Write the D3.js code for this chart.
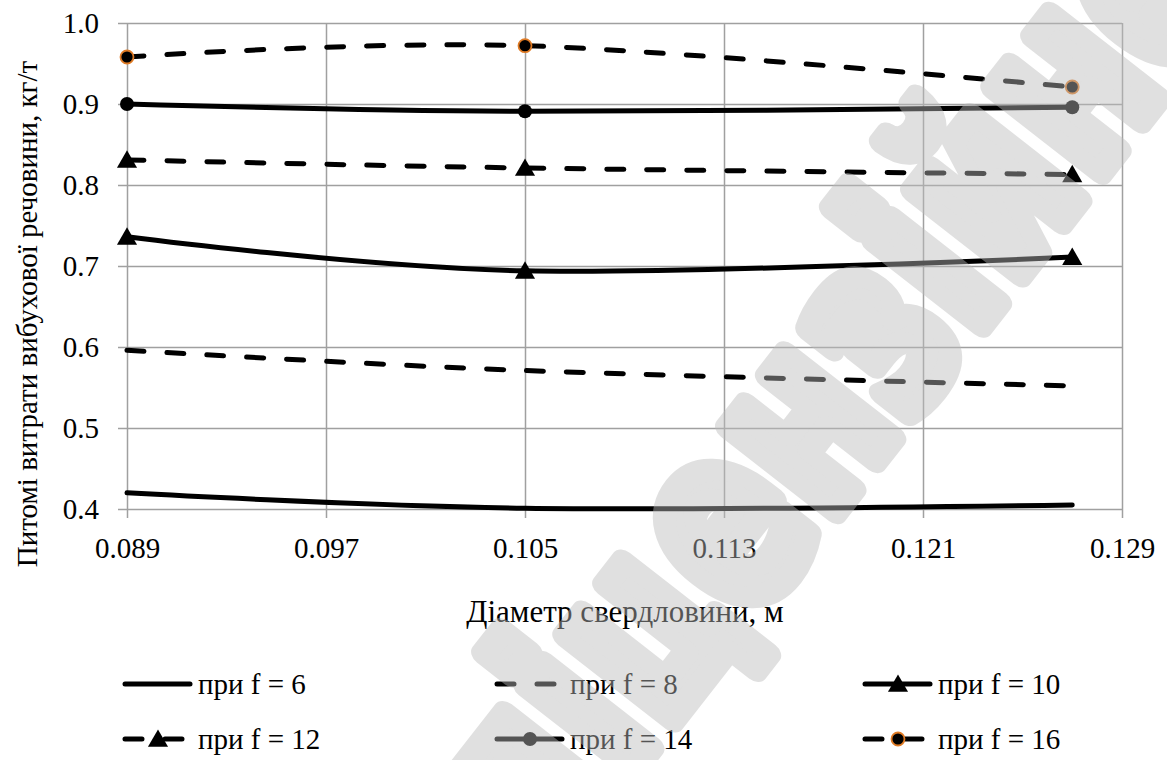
<!DOCTYPE html>
<html>
<head>
<meta charset="utf-8">
<script src="https://cdn.jsdelivr.net/npm/d3@7"></script>
<style>
  body { margin: 0; background: #fff; }
  text { font-family: "Liberation Serif", "Times New Roman", serif; fill: #000; }
</style>
</head>
<body>
<script>
"use strict";

// Data

let diameters = [0.089, 0.105, 0.127];
let f6 = [0.420, 0.401, 0.405];
let f8 = [0.596, 0.571, 0.552];
let f10 = [0.736, 0.694, 0.711];
let f12 = [0.831, 0.821, 0.813];
let f14 = [0.900, 0.891, 0.896];
let f16 = [0.958, 0.972, 0.921];

let xTicks = [0.089, 0.097, 0.105, 0.113, 0.121, 0.129];
let yTicks = [0.4, 0.5, 0.6, 0.7, 0.8, 0.9, 1.0];

let seriesNames = ["при f = 6", "при f = 8", "при f = 10", "при f = 12", "при f = 14", "при f = 16"];
let seriesValues = [f6, f8, f10, f12, f14, f16];
let seriesDashed = [false, true, false, true, false, true];
let seriesMarker = ["none", "none", "triangle", "triangle", "circle", "ringed"];

let xTitle = "Діаметр свердловини, м";
let yTitle = "Питомі витрати вибухової речовини, кг/т";

// Layout

let svgWidth = 1167;
let svgHeight = 760;
let margin = {top: 23, right: 45, bottom: 251, left: 127};
let width = svgWidth - margin.left - margin.right;
let height = svgHeight - margin.top - margin.bottom;
let gridColor = "#a0a0a0";
let dash = "17,23";
let serif = '"Liberation Serif", "Times New Roman", serif';

let svg = d3.select("body")
    .append("svg")
    .attr("width", svgWidth)
    .attr("height", svgHeight);

let g = svg.append("g")
    .attr("transform", `translate(${margin.left}, ${margin.top})`);

let xScale = d3.scaleLinear()
    .domain([0.089, 0.129])
    .range([0, width]);

let yScale = d3.scaleLinear()
    .domain([0.4, 1.0])
    .range([height, 0]);

// Axes + grid

let xAxis = d3.axisBottom(xScale)
    .tickValues(xTicks)
    .tickFormat(d3.format(".3f"))
    .tickSizeInner(-height)
    .tickSizeOuter(0)
    .tickPadding(28);

let yAxis = d3.axisLeft(yScale)
    .tickValues(yTicks)
    .tickFormat(d3.format(".1f"))
    .tickSizeInner(-width)
    .tickSizeOuter(0)
    .tickPadding(28);

let gx = g.append("g")
    .attr("transform", `translate(0, ${height})`)
    .call(xAxis);
gx.selectAll(".tick line").attr("y1", 9);

let gy = g.append("g")
    .call(yAxis);
gy.selectAll(".tick line").attr("x1", -9);

g.selectAll(".domain").remove();
g.selectAll(".tick line")
    .style("stroke", gridColor)
    .style("stroke-width", 1.5);
g.selectAll(".tick text")
    .style("font-size", "29px")
    .style("font-family", serif)
    .style("fill", "#000");

// Lines

let line = d3.line()
    .x((d, i) => xScale(diameters[i]))
    .y(d => yScale(d))
    .curve(d3.curveCardinal.tension(0));

let triangle = d3.symbol().type(d3.symbolTriangle).size(175);

function drawMarker(sel, type, x, y) {
    if (type == "triangle") {
        sel.append("path")
            .attr("d", triangle())
            .attr("transform", `translate(${x}, ${y + 2})`)
            .attr("fill", "#000");
    } else if (type == "circle") {
        sel.append("circle")
            .attr("cx", x).attr("cy", y).attr("r", 7)
            .attr("fill", "#000");
    } else if (type == "ringed") {
        sel.append("circle")
            .attr("cx", x).attr("cy", y).attr("r", 6.5)
            .attr("fill", "#000")
            .attr("stroke", "#e07b25")
            .attr("stroke-width", 1.8);
    }
}

seriesValues.forEach((vals, k) => {
    g.append("path")
        .datum(vals)
        .attr("d", line)
        .attr("fill", "none")
        .attr("stroke", "#000")
        .attr("stroke-width", 5)
        .attr("stroke-linecap", "round")
        .attr("stroke-dasharray", seriesDashed[k] ? dash : null);

    vals.forEach((v, i) => drawMarker(g, seriesMarker[k], xScale(diameters[i]), yScale(v)));
});

// Titles

svg.append("text")
    .attr("x", 625)
    .attr("y", 622)
    .attr("text-anchor", "middle")
    .style("font-size", "31px")
    .text(xTitle);

svg.append("text")
    .attr("transform", "translate(37, 314) rotate(-90)")
    .attr("text-anchor", "middle")
    .style("font-size", "29px")
    .text(yTitle);

// Legend

let legendCols = [123, 495, 863];
let legendRows = [684, 739];
let legend = svg.append("g");

seriesNames.forEach((name, k) => {
    let lx = legendCols[k % 3];
    let ly = legendRows[Math.floor(k / 3)];
    let item = legend.append("g");
    item.append("line")
        .attr("x1", lx + 2).attr("x2", lx + 67)
        .attr("y1", ly).attr("y2", ly)
        .attr("stroke", "#000")
        .attr("stroke-width", 5)
        .attr("stroke-linecap", "round")
        .attr("stroke-dasharray", seriesDashed[k] ? dash : null);
    drawMarker(item, seriesMarker[k], lx + 35, ly);
    item.append("text")
        .attr("x", lx + 75)
        .attr("y", ly + 10)
        .style("font-size", "29px")
        .text(name);
});

// Watermark overlay

svg.append("g")
    .style("opacity", 0.45)
    .append("text")
    .attr("transform", "translate(825, 385) rotate(-52)")
    .attr("text-anchor", "middle")
    .attr("dominant-baseline", "central")
    .attr("textLength", 1150)
    .attr("lengthAdjust", "spacingAndGlyphs")
    .style("font-family", "DejaVu Sans")
    .style("font-weight", "bold")
    .style("font-size", "250px")
    .style("fill", "#bbbbbb")
    .style("stroke", "#bbbbbb")
    .style("stroke-width", 26)
    .style("stroke-linejoin", "round")
    .text("ліцензійне");
</script>
</body>
</html>
